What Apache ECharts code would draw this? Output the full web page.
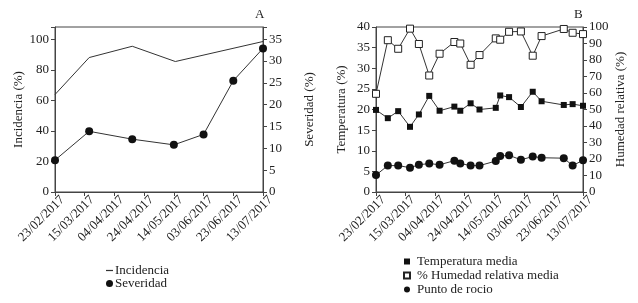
<!DOCTYPE html>
<html>
<head>
<meta charset="utf-8">
<script src="https://cdn.jsdelivr.net/npm/echarts@6/dist/echarts.min.js"></script>
<style>
  html, body { margin: 0; padding: 0; background: #fff; }
  #chart { width: 638px; height: 303px; }
</style>
</head>
<body>
<div id="chart"></div>
<script>
// shared date axis
const startDate = '2017-02-23';
const tickLabels = ['23/02/2017', '15/03/2017', '04/04/2017', '24/04/2017', '14/05/2017', '03/06/2017', '23/06/2017', '13/07/2017'];

// panel A
const incidenciaDates = ['2017-02-23', '2017-03-18', '2017-04-16', '2017-05-15', '2017-07-13'];
const incidencia = [63.8, 88, 95.4, 85.4, 98.5];
const severidadDates = ['2017-02-23', '2017-03-18', '2017-04-16', '2017-05-14', '2017-06-03', '2017-06-23', '2017-07-13'];
const severidad = [7.3, 13.9, 12.1, 10.8, 13.2, 25.5, 32.9];

// panel B
const climaDates = ['2017-02-23', '2017-03-03', '2017-03-10', '2017-03-18', '2017-03-24', '2017-03-31', '2017-04-07',
  '2017-04-17', '2017-04-21', '2017-04-28', '2017-05-04', '2017-05-15', '2017-05-18', '2017-05-24', '2017-06-01',
  '2017-06-09', '2017-06-15', '2017-06-30', '2017-07-06', '2017-07-13'];
const temperatura = [19.9, 17.9, 19.6, 15.8, 18.8, 23.3, 19.7, 20.7, 19.7, 21.5, 20.0, 20.4, 23.4, 23.0, 20.6, 24.3, 22.0, 21.1, 21.3, 20.9];
const humedad = [59.5, 92, 86.8, 99, 89.7, 70.6, 83.8, 90.9, 90.0, 77.1, 83.0, 93.1, 92.3, 97.1, 97.3, 82.6, 94.5, 98.8, 96.5, 95.7];
const rocio = [4.1, 6.4, 6.4, 5.9, 6.6, 6.9, 6.6, 7.6, 6.9, 6.4, 6.4, 7.5, 8.7, 8.9, 7.8, 8.6, 8.3, 8.2, 6.4, 7.7];

const font = "'Liberation Serif', 'Times New Roman', serif";
const ink = '#222';
const axisColor = '#444';

const dayOf = (d) => (Date.parse(d) - Date.parse(startDate)) / 86400000;
const pairs = (dates, vals) => dates.map((d, i) => [dayOf(d), vals[i]]);

const xAxisBase = (gridIndex) => ({
  type: 'value',
  gridIndex,
  min: 0,
  max: 140,
  interval: 20,
  axisLine: { lineStyle: { color: axisColor } },
  axisTick: { show: true, length: 4, lineStyle: { color: axisColor } },
  splitLine: { show: false },
  axisLabel: {
    rotate: 45,
    margin: 4,
    verticalAlign: 'top',
    padding: [0, -4, 0, 0],
    fontFamily: font,
    fontSize: 13,
    color: ink,
    formatter: (v) => tickLabels[Math.round(v / 20)] || ''
  }
});

// only label the round steps; the top of panel A runs a little past 100 / 35
const yAxisBase = (gridIndex, position, max, interval, name, nameGap) => ({
  type: 'value',
  gridIndex,
  position,
  min: 0,
  max,
  interval,
  name,
  nameLocation: 'middle',
  nameRotate: 90,
  nameGap,
  nameTextStyle: { fontFamily: font, fontSize: 13, color: ink },
  axisLine: { show: true, lineStyle: { color: axisColor } },
  axisTick: { show: true, length: 4, lineStyle: { color: axisColor } },
  splitLine: { show: false },
  axisLabel: {
    margin: 6,
    fontFamily: font,
    fontSize: 13,
    color: ink,
    formatter: (v) => Math.abs(v / interval - Math.round(v / interval)) < 1e-6 ? String(Math.round(v)) : ''
  }
});

const chart = echarts.init(document.getElementById('chart'));

const option = {
  animation: false,
  textStyle: { fontFamily: font },
  title: [
    { text: 'A', left: 250, top: 3, textStyle: { fontFamily: font, fontSize: 13, fontWeight: 'normal', color: ink } },
    { text: 'B', left: 569, top: 3, textStyle: { fontFamily: font, fontSize: 13, fontWeight: 'normal', color: ink } }
  ],
  grid: [
    { left: 55, right: 375, top: 27, bottom: 111, show: true, borderColor: axisColor, borderWidth: 1 },
    { left: 376, right: 55, top: 27, bottom: 111, show: true, borderColor: axisColor, borderWidth: 1 }
  ],
  xAxis: [xAxisBase(0), xAxisBase(1)],
  yAxis: [
    yAxisBase(0, 'left', 108, 20, 'Incidencia (%)', 30),
    yAxisBase(0, 'right', 37.8, 5, 'Severidad (%)', 40),
    yAxisBase(1, 'left', 40, 5, 'Temperatura (%)', 28),
    yAxisBase(1, 'right', 100, 10, 'Humedad relativa (%)', 31)
  ],
  legend: [
    {
      orient: 'vertical',
      left: 101,
      top: 259,
      itemWidth: 7,
      itemHeight: 7,
      itemGap: 0,
      textStyle: { fontFamily: font, fontSize: 13, color: ink, padding: [0, 0, 0, -3] },
      data: [
        { name: 'Incidencia', icon: 'path://M0,0H8V1.4H0Z' },
        { name: 'Severidad', icon: 'circle' }
      ]
    },
    {
      orient: 'vertical',
      left: 398,
      top: 250,
      itemWidth: 6,
      itemHeight: 6,
      itemGap: 1,
      textStyle: { fontFamily: font, fontSize: 13, color: ink, padding: [0, 0, 0, 2] },
      data: [
        { name: 'Temperatura media', icon: 'rect' },
        { name: '% Humedad relativa media', icon: 'rect' },
        { name: 'Punto de rocio', icon: 'circle' }
      ]
    }
  ],
  series: [
    {
      name: 'Incidencia',
      type: 'line',
      xAxisIndex: 0,
      yAxisIndex: 0,
      data: pairs(incidenciaDates, incidencia),
      symbol: 'none',
      lineStyle: { color: '#333', width: 1 },
      itemStyle: { color: '#333' }
    },
    {
      name: 'Severidad',
      type: 'line',
      xAxisIndex: 0,
      yAxisIndex: 1,
      data: pairs(severidadDates, severidad),
      symbol: 'circle',
      symbolSize: 8,
      lineStyle: { color: '#333', width: 1 },
      itemStyle: { color: '#111' }
    },
    {
      name: 'Temperatura media',
      type: 'line',
      xAxisIndex: 1,
      yAxisIndex: 2,
      data: pairs(climaDates, temperatura),
      symbol: 'rect',
      symbolSize: 6,
      lineStyle: { color: '#333', width: 1 },
      itemStyle: { color: '#111' }
    },
    {
      name: '% Humedad relativa media',
      type: 'line',
      xAxisIndex: 1,
      yAxisIndex: 3,
      data: pairs(climaDates, humedad),
      symbol: 'rect',
      symbolSize: 7,
      lineStyle: { color: '#333', width: 1 },
      itemStyle: { color: '#fff', borderColor: '#222', borderWidth: 1 }
    },
    {
      name: 'Punto de rocio',
      type: 'line',
      xAxisIndex: 1,
      yAxisIndex: 2,
      data: pairs(climaDates, rocio),
      symbol: 'circle',
      symbolSize: 8,
      lineStyle: { color: '#333', width: 1 },
      itemStyle: { color: '#111' }
    }
  ]
};

chart.setOption(option);
</script>
</body>
</html>
